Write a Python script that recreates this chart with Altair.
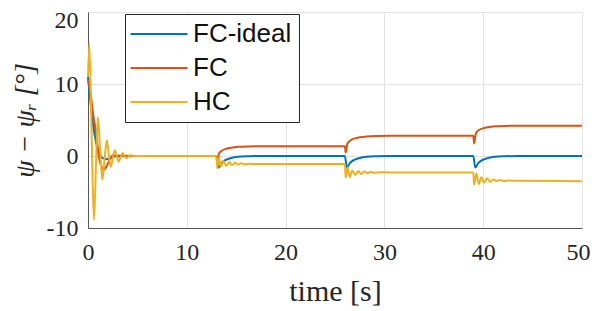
import altair as alt
import pandas as pd

series_names = ["FC-ideal", "FC", "HC"]
series_colors = ["#0072BD", "#D95319", "#EDB120"]

t_ideal = [0, 0.25, 0.5, 0.8, 1.1, 1.4, 1.9, 2.4, 3.0, 4.0,
           13.0, 13.2, 13.5, 14.0, 14.5, 15.2, 16.2, 17.5,
           26.0, 26.2, 26.5, 27.0, 27.5, 28.2, 29.2, 30.5,
           39.0, 39.2, 39.5, 40.0, 40.5, 41.2, 42.2, 43.5, 50]
v_ideal = [11, 7.5, 4.5, 2.0, 0.5, -0.2, -0.45, -0.2, 0.05, 0,
           0, -1.6, -1.0, -0.5, -0.28, -0.12, -0.04, 0,
           0, -1.6, -1.0, -0.5, -0.28, -0.12, -0.04, 0,
           0, -1.6, -1.0, -0.5, -0.28, -0.12, -0.04, 0, 0]

t_fc = [0, 0.27, 0.5, 0.78, 1.1, 1.35, 1.6, 1.85, 2.1, 2.55, 2.95, 3.5, 4.5,
        13.0, 13.08, 13.25, 13.5, 14.0, 14.5, 15.2, 16.2, 17.5,
        26.0, 26.08, 26.25, 26.5, 27.0, 27.5, 28.2, 29.2, 30.5,
        39.0, 39.08, 39.25, 39.5, 40.0, 40.5, 41.2, 42.2, 43.5, 50]
v_fc = [10.5, 8.7, 6.0, 3.6, -0.1, -1.4, -1.95, -1.5, -0.8, 0.15, -0.1, 0.05, 0,
        0, -0.9, 0.3, 0.7, 1.0, 1.15, 1.27, 1.33, 1.35,
        1.35, 0.45, 1.7, 2.1, 2.45, 2.6, 2.72, 2.78, 2.8,
        2.8, 1.75, 3.1, 3.55, 3.85, 4.0, 4.12, 4.18, 4.2, 4.2]

t_hc = [0, 0.13, 0.35, 0.6, 0.8, 1.0, 1.22, 1.45, 1.68, 1.9, 2.1, 2.3, 2.5, 2.7,
        2.9, 3.1, 3.3, 3.5, 3.7, 3.9, 4.2, 5.0,
        13.0, 13.08, 13.25, 13.45, 13.7, 14.0, 14.3, 14.6, 14.9, 15.2, 15.5, 15.9, 16.4, 17.2,
        26.0, 26.08, 26.28, 26.5, 26.75, 27.05, 27.35, 27.65, 27.95, 28.3, 28.6, 29.0, 29.5, 30.5,
        39.0, 39.08, 39.3, 39.55, 39.8, 40.1, 40.4, 40.7, 41.0, 41.35, 41.7, 42.1, 42.6, 43.5, 50]
v_hc = [11, 15.6, 4.0, -8.9, -1.5, 5.4, 1.0, -3.3, -0.5, 2.2, 0.3, -1.5, -0.4, 0.8,
        0.1, -0.8, -0.2, 0.4, 0, -0.3, 0.1, 0,
        0, -1.7, -0.3, -1.5, -0.7, -1.35, -0.85, -1.25, -0.95, -1.2, -1.02, -1.15, -1.08, -1.12,
        -1.12, -3.0, -1.6, -2.9, -2.0, -2.65, -2.1, -2.5, -2.15, -2.4, -2.2, -2.33, -2.25, -2.28,
        -2.28, -4.0, -2.4, -3.9, -2.95, -3.7, -3.1, -3.6, -3.25, -3.5, -3.35, -3.47, -3.4, -3.45, -3.5]

x_ticks = [0, 10, 20, 30, 40, 50]
y_ticks = [-10, 0, 10, 20]

rows = []
for name, ts, vs in [("FC-ideal", t_ideal, v_ideal), ("FC", t_fc, v_fc), ("HC", t_hc, v_hc)]:
    for i, (t, v) in enumerate(zip(ts, vs)):
        rows.append({"time": t, "value": v, "series": name, "order": i})
df = pd.DataFrame(rows)

chart = alt.Chart(df).mark_line(strokeWidth=2, interpolate="monotone").encode(
    x=alt.X("time:Q", scale=alt.Scale(domain=[0, 50], nice=False),
            axis=alt.Axis(values=x_ticks, title="time [s]", labelFlush=False,
                          labelExpr="datum.value + ''",
                          labelOffset={"condition": {"test": "datum.value == 50", "value": -4}, "value": 0},
                          labelFont="Liberation Serif", labelFontSize=24,
                          titleFont="Liberation Serif", titleFontSize=30, titleFontWeight="normal",
                          labelPadding=12, titlePadding=12, ticks=False,
                          domainColor="#555555", gridColor="#e3e3e3", labelColor="#262626",
                          titleColor="#262626")),
    y=alt.Y("value:Q", scale=alt.Scale(domain=[-10, 20], nice=False),
            axis=alt.Axis(values=y_ticks, title="ψ − ψᵣ [°]", labelFlush=False,
                          labelExpr="datum.value + ''",
                          labelOffset={"condition": {"test": "datum.value == 20", "value": 8}, "value": 0},
                          labelFont="Liberation Serif", labelFontSize=24,
                          titleFont="Liberation Serif", titleFontSize=28, titleFontWeight="normal",
                          titleFontStyle="italic",
                          labelPadding=10, titlePadding=7, ticks=False,
                          domainColor="#555555", gridColor="#e3e3e3", labelColor="#262626",
                          titleColor="#262626")),
    color=alt.Color("series:N", scale=alt.Scale(domain=series_names, range=series_colors),
                    legend=alt.Legend(title=None, orient="none", legendX=37, legendY=2,
                                      strokeColor="#262626", fillColor="white", padding=7,
                                      labelFont="Liberation Sans", labelFontSize=26,
                                      labelColor="#111111",
                                      symbolType="M-4,0H4", symbolStrokeWidth=2,
                                      symbolSize=203, symbolOffset=14,
                                      labelOffset=21, rowPadding=8)),
    order="order:Q",
).properties(
    width=494, height=216,
    padding={"left": 80, "top": 4, "right": 8, "bottom": 83},
    autosize=alt.AutoSizeParams(type="none"),
).configure_view(stroke=None)

chart.save("out.html", embed_options={"renderer": "svg", "actions": False})
